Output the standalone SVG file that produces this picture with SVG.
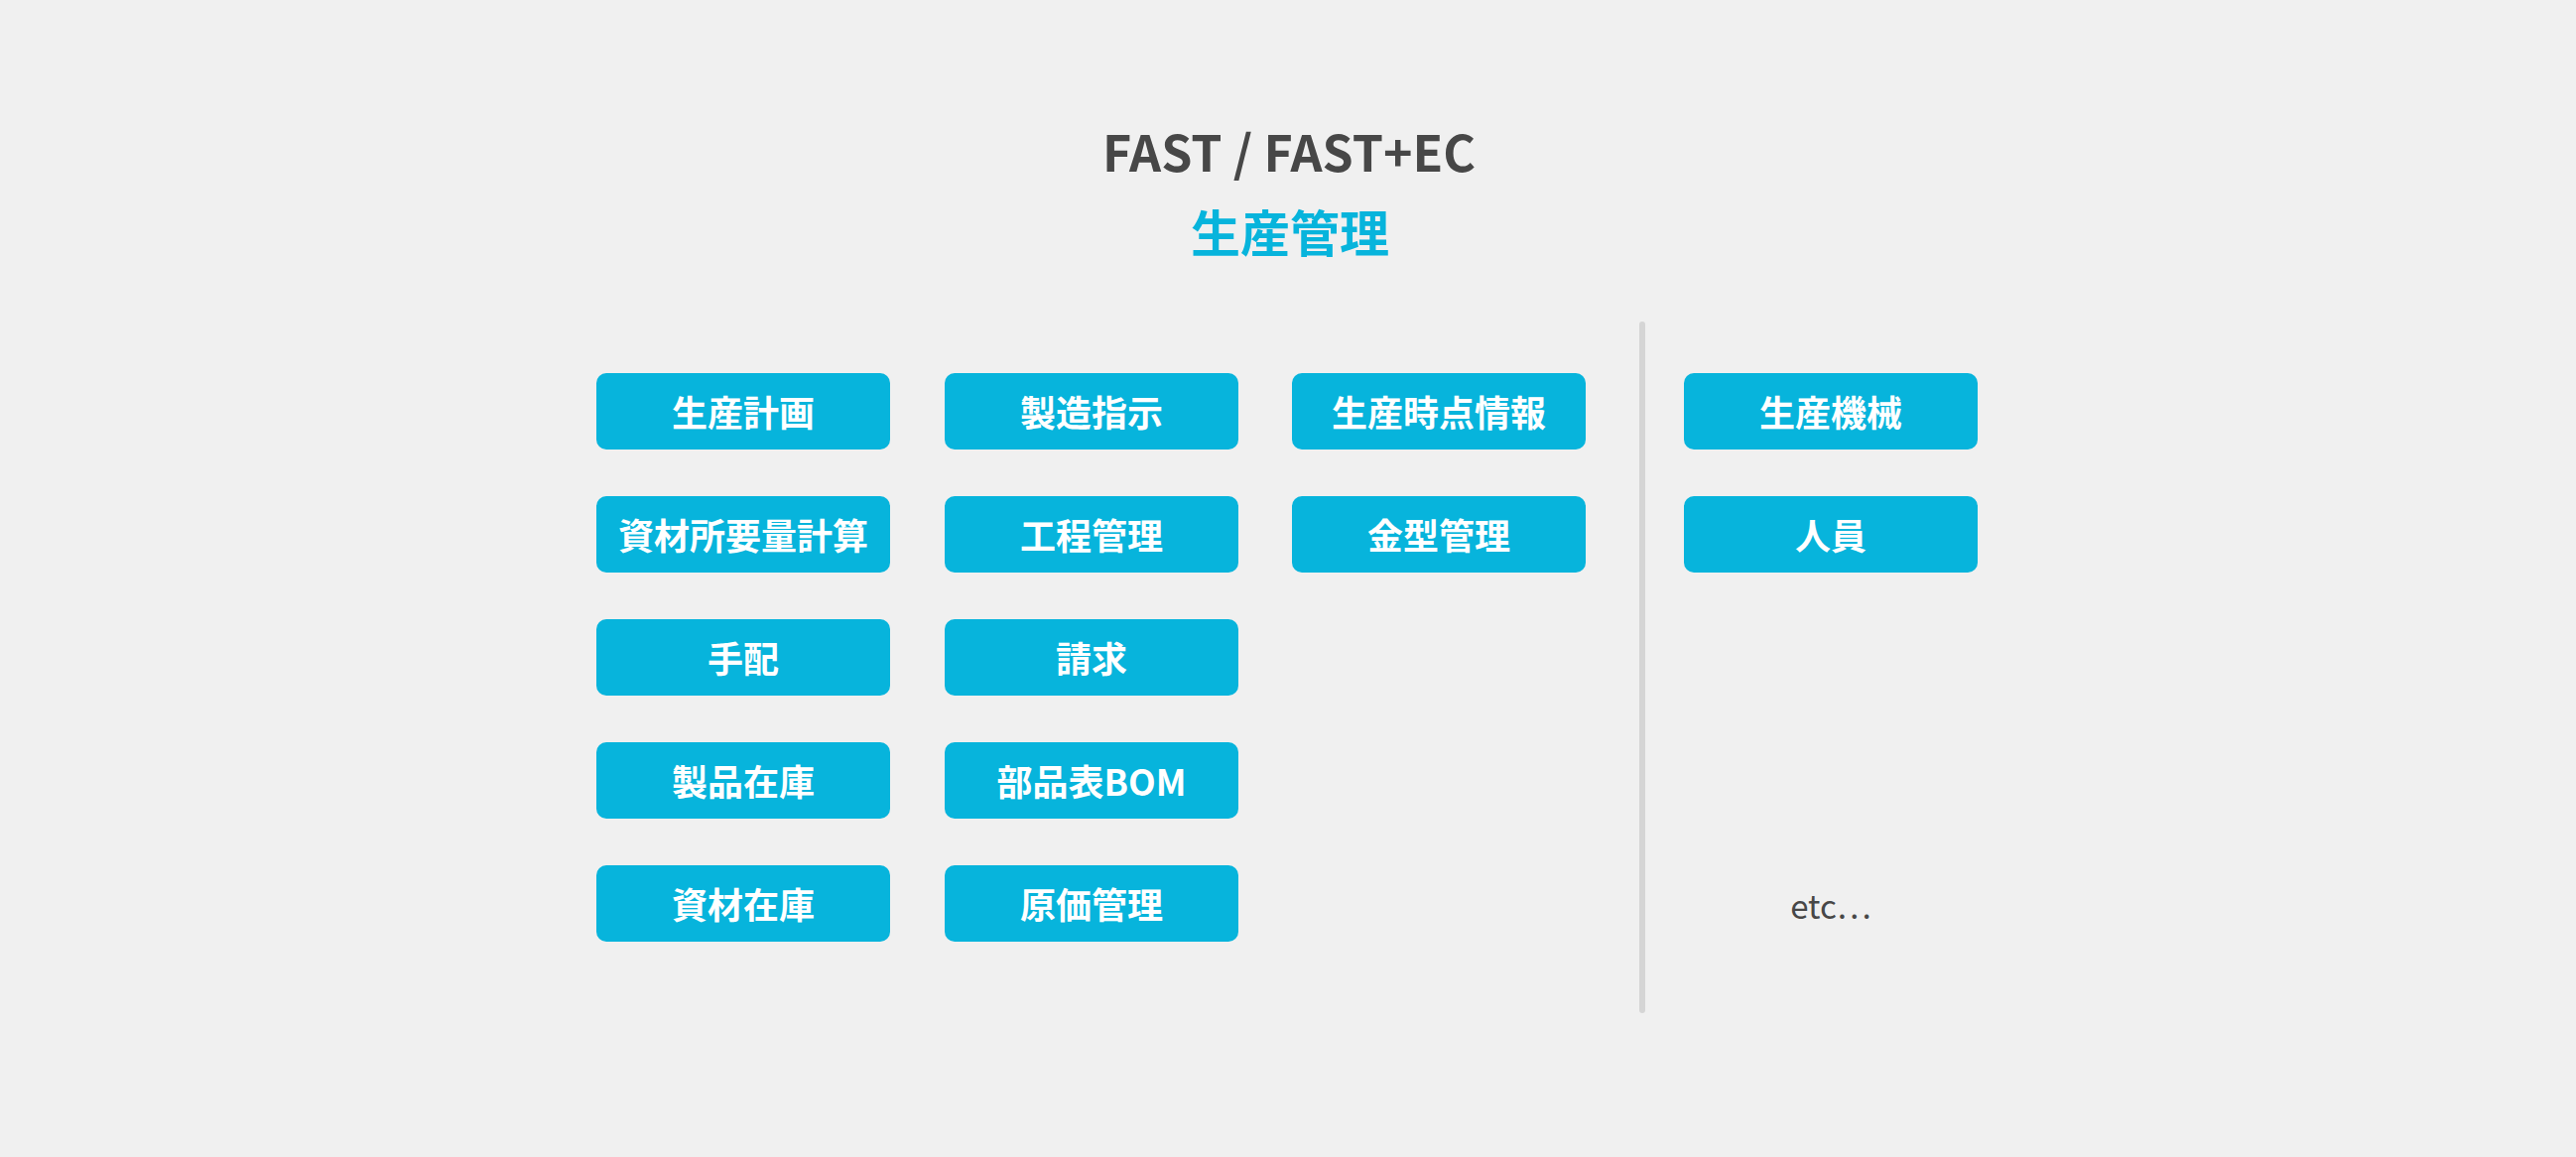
<svg xmlns="http://www.w3.org/2000/svg" width="2596" height="1166" viewBox="0 0 2596 1166">
<style>
.bg{fill:#f0f0f0}
.box{fill:#07b4dc}
.lbl{font-family:"Noto Sans CJK JP","Noto Sans",sans-serif;font-weight:700;font-size:36px;fill:#ffffff;text-anchor:middle}
.t1{font-family:"Noto Sans CJK JP","Noto Sans",sans-serif;font-weight:700;font-size:50px;fill:#474747;text-anchor:middle}
.t2{font-family:"Noto Sans CJK JP","Noto Sans",sans-serif;font-weight:700;font-size:50px;fill:#07b4dc;text-anchor:middle}
.etc{font-family:"Noto Sans CJK JP","Noto Sans",sans-serif;font-weight:400;font-size:33px;fill:#474747;text-anchor:middle}
</style>
<rect class="bg" x="0" y="0" width="2596" height="1166"/>
<g id="title">
<text class="t1" x="1299" y="173">FAST / FAST+EC</text>
<text class="t2" x="1300" y="254">生産管理</text>
</g>
<g id="divider">
<line x1="1655" y1="327" x2="1655" y2="1018" stroke="#d5d5d5" stroke-width="6" stroke-linecap="round"/>
</g>
<g id="n1"><rect class="box" x="601" y="376" width="296" height="77" rx="10"/><text class="lbl" x="749" y="430">生産計画</text></g>
<g id="n2"><rect class="box" x="601" y="500" width="296" height="77" rx="10"/><text class="lbl" x="749" y="554">資材所要量計算</text></g>
<g id="n3"><rect class="box" x="601" y="624" width="296" height="77" rx="10"/><text class="lbl" x="749" y="678">手配</text></g>
<g id="n4"><rect class="box" x="601" y="748" width="296" height="77" rx="10"/><text class="lbl" x="749" y="802">製品在庫</text></g>
<g id="n5"><rect class="box" x="601" y="872" width="296" height="77" rx="10"/><text class="lbl" x="749" y="926">資材在庫</text></g>
<g id="n6"><rect class="box" x="952" y="376" width="296" height="77" rx="10"/><text class="lbl" x="1100" y="430">製造指示</text></g>
<g id="n7"><rect class="box" x="952" y="500" width="296" height="77" rx="10"/><text class="lbl" x="1100" y="554">工程管理</text></g>
<g id="n8"><rect class="box" x="952" y="624" width="296" height="77" rx="10"/><text class="lbl" x="1100" y="678">請求</text></g>
<g id="n9"><rect class="box" x="952" y="748" width="296" height="77" rx="10"/><text class="lbl" x="1100" y="802">部品表BOM</text></g>
<g id="n10"><rect class="box" x="952" y="872" width="296" height="77" rx="10"/><text class="lbl" x="1100" y="926">原価管理</text></g>
<g id="n11"><rect class="box" x="1302" y="376" width="296" height="77" rx="10"/><text class="lbl" x="1450" y="430">生産時点情報</text></g>
<g id="n12"><rect class="box" x="1302" y="500" width="296" height="77" rx="10"/><text class="lbl" x="1450" y="554">金型管理</text></g>
<g id="n13"><rect class="box" x="1697" y="376" width="296" height="77" rx="10"/><text class="lbl" x="1845" y="430">生産機械</text></g>
<g id="n14"><rect class="box" x="1697" y="500" width="296" height="77" rx="10"/><text class="lbl" x="1845" y="554">人員</text></g>
<g id="connectors"></g>
<g id="etc"><text class="etc" x="1845" y="926">etc…</text></g>
</svg>
